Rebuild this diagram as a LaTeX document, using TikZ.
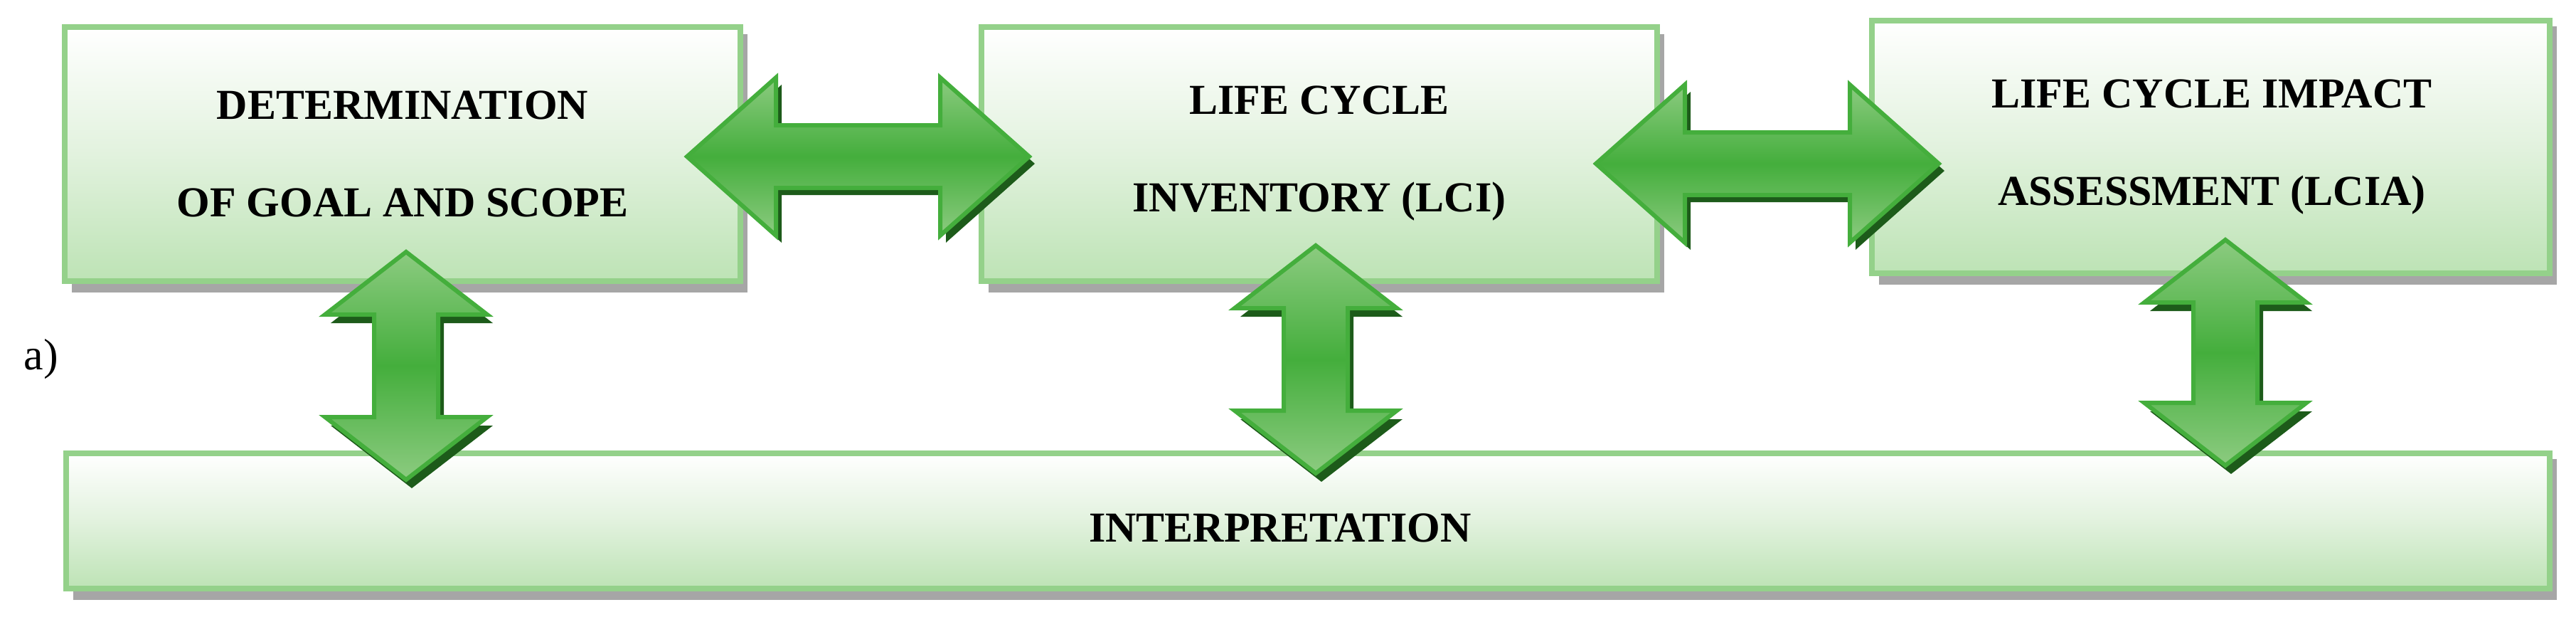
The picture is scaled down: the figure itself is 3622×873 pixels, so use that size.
\documentclass[tikz,border=0pt]{standalone}
\usepackage{fontspec}
\setmainfont{Liberation Serif}
\begin{document}
\begin{tikzpicture}[x=1pt,y=-1pt,
  box/.style={draw=boxline,line width=8pt,top color=white,bottom color=boxfill,middle color=boxmid},
  shad/.style={fill=gray!70},
  arr/.style={draw=arrline,line width=6pt,line join=miter},
  lbl/.style={font=\fontsize{60}{137}\selectfont\bfseries,align=center,inner sep=0pt}]
\definecolor{boxline}{HTML}{94D18A}
\definecolor{boxfill}{HTML}{BDE3B5}
\definecolor{boxmid}{HTML}{E2F2DE}
\definecolor{arrline}{HTML}{44AE3C}
\definecolor{arrlight}{HTML}{8CCB80}
\definecolor{arrdark}{HTML}{1D5B1A}
\useasboundingbox (0,0) rectangle (3622,873);
\newcommand\myhar[4]{% x1 x2 yc
  \def\pth##1##2{(#1+##1,#3+##2) -- (#1+125+##1,#3-111+##2) -- (#1+125+##1,#3-44+##2) -- (#2-125+##1,#3-44+##2) -- (#2-125+##1,#3-111+##2) -- (#2+##1,#3+##2) -- (#2-125+##1,#3+111+##2) -- (#2-125+##1,#3+44+##2) -- (#1+125+##1,#3+44+##2) -- (#1+125+##1,#3+111+##2) -- cycle}
  \fill[arrdark] \pth{8}{10};
  \path[arr,top color=arrlight,bottom color=arrlight,middle color=arrline] \pth{0}{0};}
\newcommand\myvar[3]{% xc y1 y2
  \def\pth##1##2{(#1+##1,#2+##2) -- (#1+114+##1,#2+88+##2) -- (#1+45+##1,#2+88+##2) -- (#1+45+##1,#3-88+##2) -- (#1+114+##1,#3-88+##2) -- (#1+##1,#3+##2) -- (#1-114+##1,#3-88+##2) -- (#1-45+##1,#3-88+##2) -- (#1-45+##1,#2+88+##2) -- (#1-114+##1,#2+88+##2) -- cycle}
  \fill[arrdark] \pth{8}{12};
  \path[arr,top color=arrlight,bottom color=arrlight,middle color=arrline] \pth{0}{0};}
% shadows
\fill[shad] (101,48) rectangle (1051,411);
\fill[shad] (1390,48) rectangle (2340,411);
\fill[shad] (2642,37) rectangle (3595,400);
\fill[shad] (103,645) rectangle (3595,843);
% boxes
\path[box] (91,38) rectangle (1041,395);
\path[box] (1380,38) rectangle (2330,395);
\path[box] (2632,29) rectangle (3585,384);
\path[box] (93,637) rectangle (3585,827);
\node[lbl] (goal) at (566,216) {DETERMINATION\\OF GOAL AND SCOPE};
\node[lbl] (lci) at (1855,216) {LIFE CYCLE\\INVENTORY (LCI)};
\node[lbl] (lcia) at (3110,207) {LIFE CYCLE IMPACT\\ASSESSMENT (LCIA)};
\node[lbl] (interp) at (1800,742) {INTERPRETATION};
\node[font=\fontsize{62}{70}\selectfont,inner sep=0pt] (a) at (58,505) {a)};
% arrows
\myhar{966}{1447}{220}{}
\myhar{2244}{2726}{230}{}
\myvar{571}{354}{674}
\myvar{1850}{345}{665}
\myvar{3129}{337}{654}
\end{tikzpicture}
\end{document}
